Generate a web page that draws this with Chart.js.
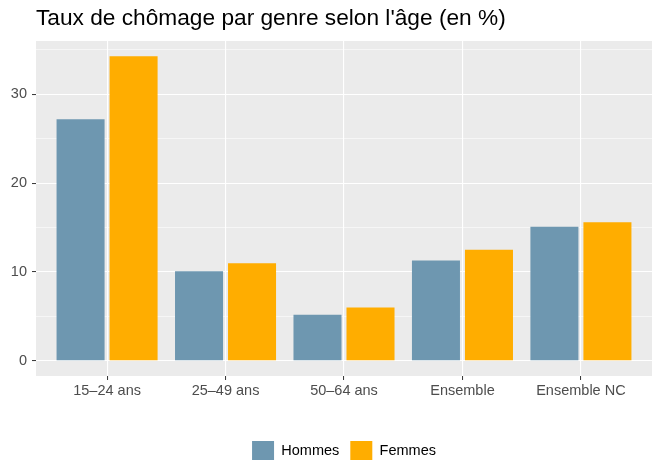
<!DOCTYPE html>
<html>
<head>
<meta charset="utf-8">
<script src="https://cdn.jsdelivr.net/npm/chart.js@4"></script>
<style>
  body { margin: 0; background: #fff; }
  #wrap { width: 657px; height: 460px; }
</style>
</head>
<body>
<div id="wrap"><canvas id="graphique" width="657" height="460"></canvas></div>
<script>
const titre = "Taux de chômage par genre selon l'âge (en %)";
const categories = ['15–24 ans', '25–49 ans', '50–64 ans', 'Ensemble', 'Ensemble NC'];
const hommes = [27.2, 10.1, 5.2, 11.3, 15.1];
const femmes = [34.3, 11.0, 6.0, 12.5, 15.6];
const yTicks = [0, 5, 10, 15, 20, 25, 30, 35];

const police = '"Liberation Sans", Arial, sans-serif';

// fond gris du panneau facon ggplot
const fondPanneau = {
    id: 'fondPanneau',
    beforeDraw(chart) {
        const { ctx, chartArea: a } = chart;
        ctx.save();
        ctx.fillStyle = '#EBEBEB';
        ctx.fillRect(a.left, a.top, a.right - a.left, a.bottom - a.top);
        ctx.restore();
    }
};

const estMajeur = v => v % 10 === 0;

new Chart(document.getElementById('graphique'), {
    type: 'bar',
    data: {
        datasets: [
            {
                label: 'Hommes',
                data: hommes.map((v, i) => ({ x: i, y: v })),
                backgroundColor: '#6E97B0',
                borderWidth: 0
            },
            {
                label: 'Femmes',
                data: femmes.map((v, i) => ({ x: i, y: v })),
                backgroundColor: '#FFAD00',
                borderWidth: 0
            }
        ]
    },
    options: {
        responsive: false,
        animation: false,
        events: [],
        categoryPercentage: 0.895,
        barPercentage: 0.906,
        layout: { padding: { top: 0, right: 5, bottom: 0, left: 0 } },
        scales: {
            x: {
                type: 'linear',
                min: -0.6,
                max: 4.6,
                offset: false,
                afterBuildTicks: s => { s.ticks = categories.map((c, i) => ({ value: i })); },
                afterFit: s => { s.height = 54; },
                border: { display: false },
                grid: { offset: false, color: '#FFFFFF', lineWidth: 1.1, tickColor: '#333333', tickLength: 4, tickWidth: 1 },
                ticks: {
                    autoSkip: false,
                    maxRotation: 0,
                    padding: 2,
                    color: '#4D4D4D',
                    font: { family: police, size: 14.5 },
                    callback: v => categories[v]
                }
            },
            y: {
                min: -1.7,
                max: 36,
                afterBuildTicks: s => { s.ticks = yTicks.map(v => ({ value: v })); },
                afterFit: s => { s.width = 36; },
                border: { display: false },
                grid: {
                    color: '#FFFFFF',
                    lineWidth: c => estMajeur(c.tick.value) ? 1.1 : 0.55,
                    tickColor: c => estMajeur(c.tick.value) ? '#333333' : 'rgba(0,0,0,0)',
                    tickLength: 4,
                    tickWidth: 1
                },
                ticks: {
                    padding: 5,
                    color: '#4D4D4D',
                    font: { family: police, size: 14.5 },
                    callback: v => estMajeur(v) ? v : ''
                }
            }
        },
        plugins: {
            title: {
                display: true,
                text: titre,
                align: 'start',
                fullSize: false,
                color: '#000000',
                font: { family: police, size: 22.7, weight: 'normal' },
                padding: { top: 5.5, bottom: 8.3 }
            },
            legend: {
                position: 'bottom',
                fullSize: false,
                maxHeight: 30,
                labels: {
                    boxWidth: 22,
                    boxHeight: 19,
                    padding: 11,
                    color: '#000000',
                    font: { family: police, size: 14.5 }
                }
            },
            tooltip: { enabled: false }
        }
    },
    plugins: [fondPanneau]
});
</script>
</body>
</html>
